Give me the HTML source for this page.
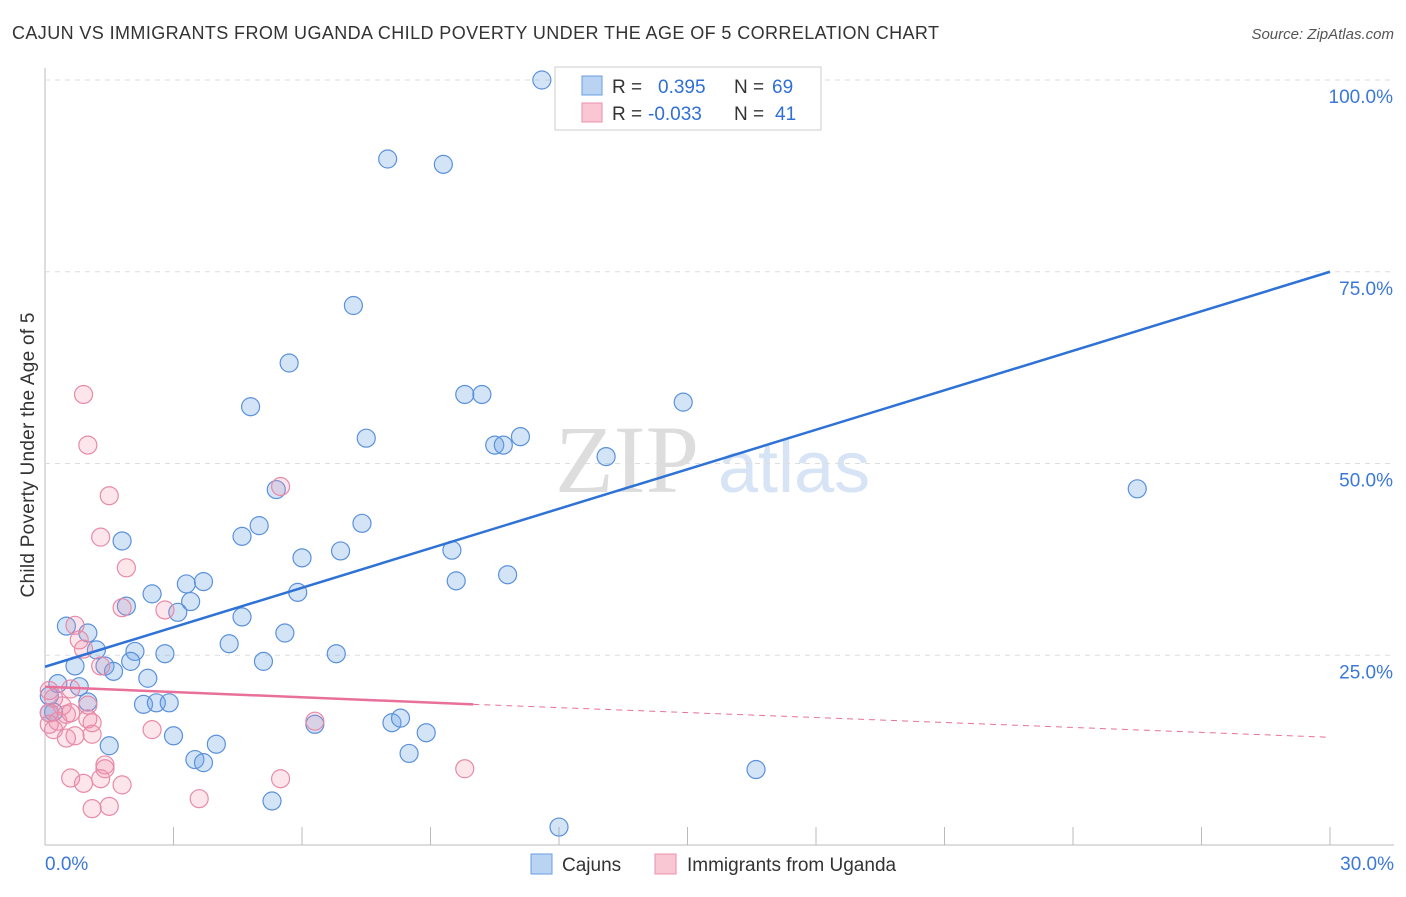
<!DOCTYPE html>
<html><head><meta charset="utf-8"><style>
body{margin:0;background:#fff;font-family:"Liberation Sans",sans-serif}
</style></head><body>
<svg id="c" width="1406" height="892" font-family="Liberation Sans, sans-serif">
<text x="12" y="39" font-size="18" fill="#333" textLength="927">CAJUN VS IMMIGRANTS FROM UGANDA CHILD POVERTY UNDER THE AGE OF 5 CORRELATION CHART</text>
<text x="1394" y="39" font-size="15" fill="#555" text-anchor="end" font-style="italic">Source: ZipAtlas.com</text>
<text x="555" y="492" font-size="96" fill="#ddd" font-family="Liberation Serif, serif">ZIP</text>
<text x="718" y="492" font-size="72" fill="#d6e4f5">atlas</text>
<g id="grid"></g>
<text transform="translate(34,455) rotate(-90)" font-size="19" fill="#333" text-anchor="middle" textLength="285">Child Poverty Under the Age of 5</text>
<g id="marks"></g>
<g>
<rect x="555" y="67" width="266" height="63" fill="#fff" stroke="#ccc"/>
<rect x="582" y="76" width="20" height="19" fill="#b9d3f3" stroke="#6a9ce0"/>
<rect x="582" y="103" width="20" height="19" fill="#f9c6d4" stroke="#e890aa"/>
<text x="612" y="93" font-size="19" fill="#333">R = <tspan fill="#2f6fd6" x="658">0.395</tspan><tspan fill="#333" x="734">N = </tspan><tspan fill="#2f6fd6" x="772">69</tspan></text>
<text x="612" y="120" font-size="19" fill="#333">R = <tspan fill="#2f6fd6" x="648">-0.033</tspan><tspan fill="#333" x="734">N = </tspan><tspan fill="#2f6fd6" x="775">41</tspan></text>
</g>
<g>
<rect x="531" y="854" width="21" height="20" fill="#b9d3f3" stroke="#6a9ce0"/>
<text x="562" y="871" font-size="19" fill="#333">Cajuns</text>
<rect x="655" y="854" width="21" height="20" fill="#f9c6d4" stroke="#e890aa"/>
<text x="687" y="871" font-size="19" fill="#333">Immigrants from Uganda</text>
</g>
</svg>
<script>
const xTicks=[0,30];
const yTicks=[25,50,75,100];
const cajunX=[11.6,8.0,9.3,7.2,5.7,4.8,9.8,10.2,14.9,7.5,11.1,10.5,10.7,13.1,25.5,5.4,7.4,5.0,4.6,1.8,9.5,6.0,6.9,9.6,10.8,2.5,3.3,3.7,1.9,3.4,3.1,5.9,4.6,1.0,0.5,4.3,5.6,1.2,2.1,2.8,6.8,5.1,2.0,0.7,1.4,1.6,0.3,0.8,2.4,0.1,1.0,2.3,2.6,2.9,0.2,8.1,8.3,6.3,8.9,3.0,1.5,4.0,8.5,3.5,3.7,16.6,5.3,12.0,0.1];
const cajunY=[100,89.7,89.0,70.6,63.1,57.4,59.0,59.0,58.0,53.3,53.5,52.4,52.4,50.9,46.7,46.6,42.2,41.9,40.5,39.9,38.7,37.7,38.6,34.7,35.5,33.0,34.3,34.6,31.4,32.0,30.6,33.2,30.0,27.9,28.8,26.5,27.9,25.7,25.5,25.2,25.2,24.2,24.2,23.6,23.6,22.9,21.3,20.9,22.0,19.7,18.9,18.6,18.8,18.8,17.6,16.2,16.8,16.0,14.9,14.5,13.2,13.4,12.2,11.4,11.0,10.1,6.0,2.6,17.5];
const ugX=[0.9,1.0,1.5,1.3,1.9,0.7,1.8,2.8,0.8,0.9,1.3,5.5,0.1,0.6,0.2,0.4,1.0,0.1,0.3,0.5,0.6,1.0,1.1,6.3,0.1,0.2,0.5,0.7,1.1,2.5,0.6,0.9,1.3,1.4,1.4,1.8,3.6,5.5,9.8,1.1,1.5];
const ugY=[59.0,52.4,45.8,40.4,36.4,28.9,31.2,30.9,27.0,25.8,23.6,47.0,20.4,20.6,19.4,18.4,18.5,17.5,16.4,17.3,17.5,16.7,16.2,16.4,16.0,15.3,14.2,14.5,14.7,15.3,9.0,8.3,8.9,10.2,10.7,8.1,6.3,8.9,10.2,5.0,5.3];
const X0=45,X1=1330,YB=847,YT=80;
const sx=v=>X0+(v-xTicks[0])/(xTicks[1]-xTicks[0])*(X1-X0);
const sy=v=>YB-v/100*(YB-YT);
const NS="http://www.w3.org/2000/svg";
function mk(t,a,p){const e=document.createElementNS(NS,t);for(const k in a)e.setAttribute(k,a[k]);p.appendChild(e);return e;}
const g=document.getElementById('grid'),m=document.getElementById('marks');
mk('line',{x1:45,y1:68,x2:45,y2:845,stroke:'#bbb'},g);
mk('line',{x1:45,y1:845,x2:1394,y2:845,stroke:'#bbb'},g);
for(const t of yTicks){
 const gl=mk('line',{x1:45,y1:sy(t),x2:1394,y2:sy(t),stroke:'#ddd','stroke-dasharray':'5,5'},g);
 
 
 const tx=mk('text',{x:1393,y:sy(t)+23,'font-size':19,fill:'#3b78d8','text-anchor':'end'},g);
 tx.textContent=t.toFixed(1)+'%';
 
 
}
for(let i=1;i<=10;i++){const x=X0+i*(X1-X0)/10;const tk=mk('line',{x1:x,y1:827,x2:x,y2:845,stroke:'#bbb'},g);
 
 }
[[xTicks[0],45,'start'],[xTicks[1],1394,'end']].forEach(([v,x,a])=>{const tx=mk('text',{x:x,y:870,'font-size':19,fill:'#3b78d8','text-anchor':a},g);tx.textContent=v.toFixed(1)+'%';
 
 });
cajunX.forEach((v,i)=>{const c=mk('circle',{cx:sx(v),cy:sy(cajunY[i]),r:9,fill:'rgba(110,165,230,0.3)',stroke:'#5b91db','stroke-width':1.2},m);
 
 });
ugX.forEach((v,i)=>{const c=mk('circle',{cx:sx(v),cy:sy(ugY[i]),r:9,fill:'rgba(240,140,170,0.22)',stroke:'#e88aa8','stroke-width':1.2},m);
 
 });
const bl=mk('line',{x1:sx(0),y1:sy(23.5),x2:sx(30),y2:sy(75),stroke:'#2f72d6','stroke-width':2.5},m);


const pl=mk('line',{x1:sx(0),y1:sy(20.9),x2:sx(10),y2:sy(18.6),stroke:'#e8709a','stroke-width':2.5},m);


const pd=mk('line',{x1:sx(10),y1:sy(18.6),x2:sx(30),y2:sy(14.3),stroke:'#e8709a','stroke-width':1,'stroke-dasharray':'6,5'},m);


</script>
</body></html>
